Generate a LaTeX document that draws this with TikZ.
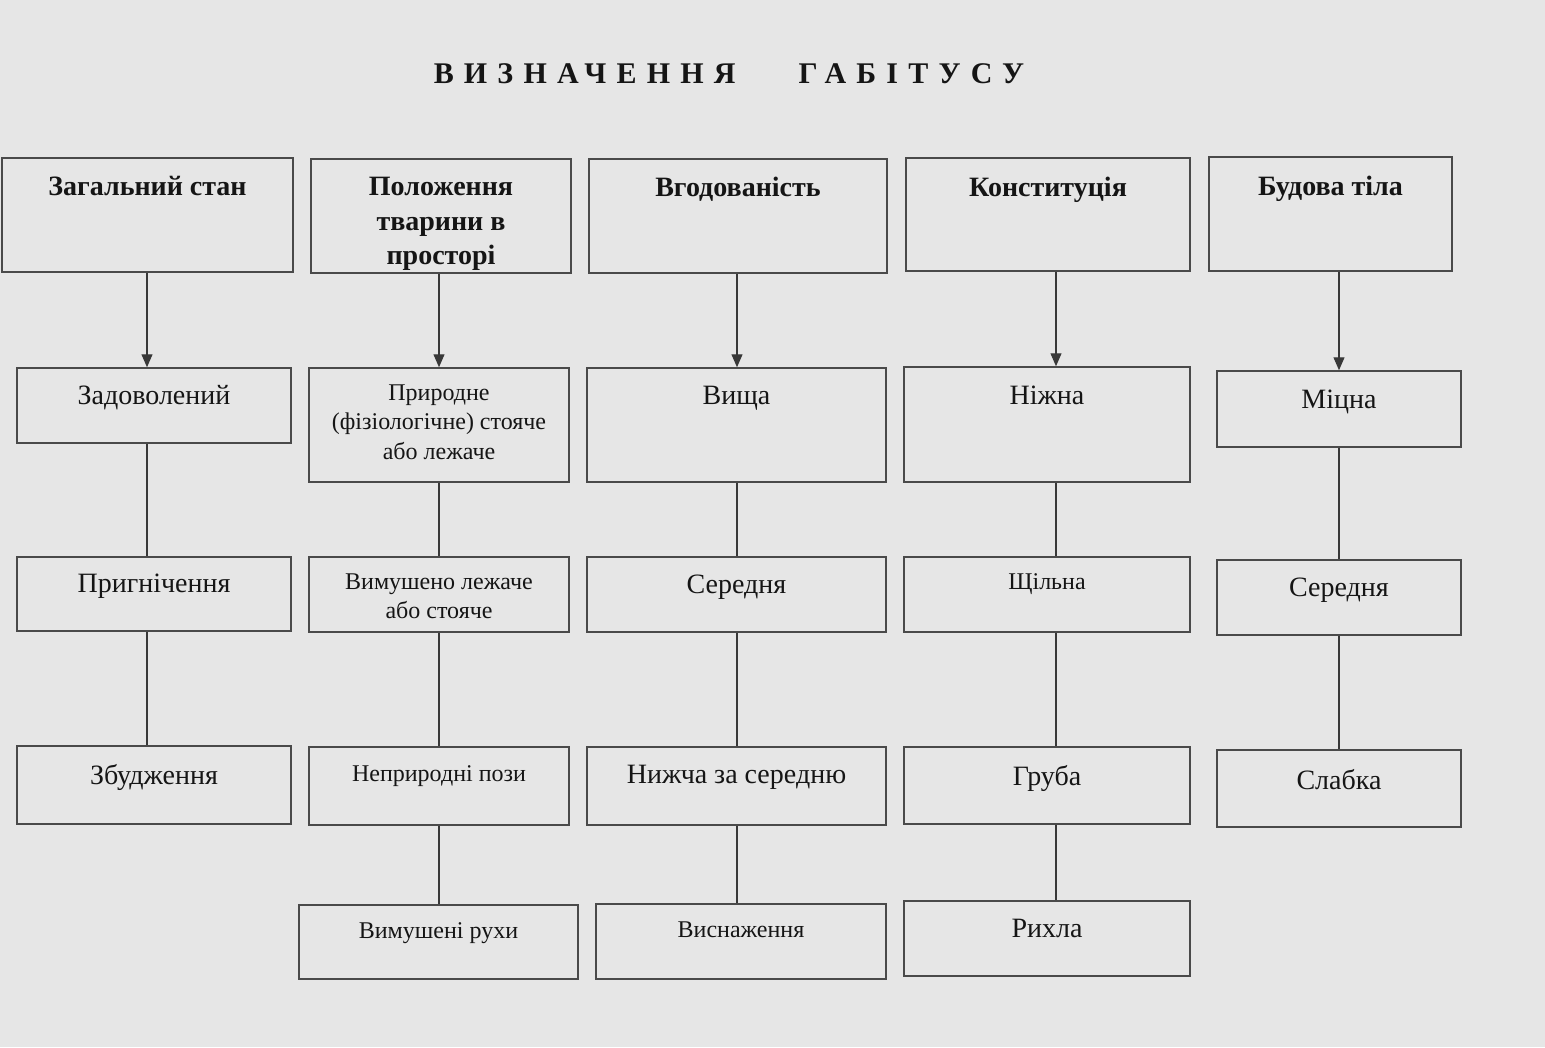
\documentclass[tikz,border=0pt]{standalone}
\usepackage{fontspec}
\setmainfont{Liberation Serif}
\usepackage{xcolor}
\usepackage{tikz}
\usetikzlibrary{positioning, arrows.meta}

\definecolor{paper}{HTML}{E6E6E6}
\definecolor{frame}{HTML}{4A4A4A}
\definecolor{ink}{HTML}{151515}

\tikzset{
  cell/.style 2 args={draw=frame, line width=1.5pt, minimum width=#1, minimum height=#2, inner sep=0pt},
  head/.style={font=\bfseries\fontsize{28}{34.5}\selectfont, text=ink, align=center, inner sep=0pt},
  lg/.style={font=\fontsize{28}{33}\selectfont, text=ink, align=center, inner sep=0pt},
  sm/.style={font=\fontsize{24}{29.5}\selectfont, text=ink, align=center, inner sep=0pt},
  link/.style={draw=ink!85, line width=1.2pt},
}

\begin{document}
\begin{tikzpicture}[x=1pt, y=-1pt, >={Triangle[length=13pt, width=11pt]}]
    \fill[paper] (0,0) rectangle (1545,1047);
    \useasboundingbox (0,0) rectangle (1545,1047);

    % заголовок
    \node[font=\bfseries\fontsize{30}{36}\selectfont\addfontfeature{LetterSpace=34}, text=ink] (title) at (729,74)
        {ВИЗНАЧЕННЯ\hspace{63pt}ГАБІТУСУ};

    % вертикалі стовпців
    \coordinate (c1) at (147,0);
    \coordinate (c2) at (439,0);
    \coordinate (c3) at (737,0);
    \coordinate (c4) at (1056,0);
    \coordinate (c5) at (1339,0);

    % Загальний стан
    \node[cell={291pt}{114pt}] (zag) at (147.5,215) {};
    \node[head, below=19pt of zag.north] (zagT) {Загальний стан};
    \node[cell={274pt}{75pt}] (zad) at (154,405.5) {};
    \node[lg, below=18pt of zad.north] (zadT) {Задоволений};
    \node[cell={274pt}{74pt}] (pry) at (154,594) {};
    \node[lg, below=18pt of pry.north] (pryT) {Пригнічення};
    \node[cell={274pt}{78pt}] (zbu) at (154,785) {};
    \node[lg, below=19pt of zbu.north] (zbuT) {Збудження};

    % Положення тварини в просторі
    \node[cell={260pt}{114pt}] (pol) at (441,216) {};
    \node[head, below=19pt of pol.north] (polT) {Положення\\тварини в\\просторі};
    \node[cell={260pt}{114pt}] (nat) at (439,425) {};
    \node[sm, below=17pt of nat.north] (natT) {Природне\\(фізіологічне) стояче\\або лежаче};
    \node[cell={260pt}{75pt}] (vyl) at (439,594.5) {};
    \node[sm, below=17pt of vyl.north] (vylT) {Вимушено лежаче\\або стояче};
    \node[cell={260pt}{78pt}] (nep) at (439,786) {};
    \node[sm, below=19pt of nep.north] (nepT) {Неприродні пози};
    \node[cell={279pt}{74pt}] (vyr) at (438.5,942) {};
    \node[sm, below=18pt of vyr.north] (vyrT) {Вимушені рухи};

    % Вгодованість
    \node[cell={298pt}{114pt}] (vgo) at (738,216) {};
    \node[head, below=19pt of vgo.north] (vgoT) {Вгодованість};
    \node[cell={299pt}{114pt}] (vys) at (736.5,425) {};
    \node[lg, below=19pt of vys.north] (vysT) {Вища};
    \node[cell={299pt}{75pt}] (ser) at (736.5,594.5) {};
    \node[lg, below=19pt of ser.north] (serT) {Середня};
    \node[cell={299pt}{78pt}] (nyz) at (736.5,786) {};
    \node[lg, below=19pt of nyz.north] (nyzT) {Нижча за середню};
    \node[cell={290pt}{75pt}] (vsn) at (741,941.5) {};
    \node[sm, below=18pt of vsn.north] (vsnT) {Виснаження};

    % Конституція
    \node[cell={284pt}{113pt}] (kon) at (1048,214.5) {};
    \node[head, below=20pt of kon.north] (konT) {Конституція};
    \node[cell={286pt}{115pt}] (nizh) at (1047,424.5) {};
    \node[lg, below=20pt of nizh.north] (nizhT) {Ніжна};
    \node[cell={286pt}{75pt}] (shch) at (1047,594.5) {};
    \node[sm, below=17pt of shch.north] (shchT) {Щільна};
    \node[cell={286pt}{77pt}] (hrub) at (1047,785.5) {};
    \node[lg, below=19pt of hrub.north] (hrubT) {Груба};
    \node[cell={286pt}{75pt}] (rykh) at (1047,938.5) {};
    \node[lg, below=19pt of rykh.north] (rykhT) {Рихла};

    % Будова тіла
    \node[cell={243pt}{114pt}] (bud) at (1330.5,214) {};
    \node[head, below=20pt of bud.north] (budT) {Будова тіла};
    \node[cell={244pt}{76pt}] (mits) at (1339,409) {};
    \node[lg, below=20pt of mits.north] (mitsT) {Міцна};
    \node[cell={244pt}{75pt}] (ser5) at (1339,597.5) {};
    \node[lg, below=19pt of ser5.north] (ser5T) {Середня};
    \node[cell={244pt}{77pt}] (slab) at (1339,788.5) {};
    \node[lg, below=20pt of slab.north] (slabT) {Слабка};

    % стрілки від заголовків
    \draw[link, ->] (c1 |- zag.south) -- (c1 |- zad.north);
    \draw[link, ->] (c2 |- pol.south) -- (c2 |- nat.north);
    \draw[link, ->] (c3 |- vgo.south) -- (c3 |- vys.north);
    \draw[link, ->] (c4 |- kon.south) -- (c4 |- nizh.north);
    \draw[link, ->] (c5 |- bud.south) -- (c5 |- mits.north);

    % з'єднання всередині стовпців
    \draw[link] (c1 |- zad.south) -- (c1 |- pry.north);
    \draw[link] (c1 |- pry.south) -- (c1 |- zbu.north);
    \draw[link] (c2 |- nat.south) -- (c2 |- vyl.north);
    \draw[link] (c2 |- vyl.south) -- (c2 |- nep.north);
    \draw[link] (c2 |- nep.south) -- (c2 |- vyr.north);
    \draw[link] (c3 |- vys.south) -- (c3 |- ser.north);
    \draw[link] (c3 |- ser.south) -- (c3 |- nyz.north);
    \draw[link] (c3 |- nyz.south) -- (c3 |- vsn.north);
    \draw[link] (c4 |- nizh.south) -- (c4 |- shch.north);
    \draw[link] (c4 |- shch.south) -- (c4 |- hrub.north);
    \draw[link] (c4 |- hrub.south) -- (c4 |- rykh.north);
    \draw[link] (c5 |- mits.south) -- (c5 |- ser5.north);
    \draw[link] (c5 |- ser5.south) -- (c5 |- slab.north);
\end{tikzpicture}
\end{document}
